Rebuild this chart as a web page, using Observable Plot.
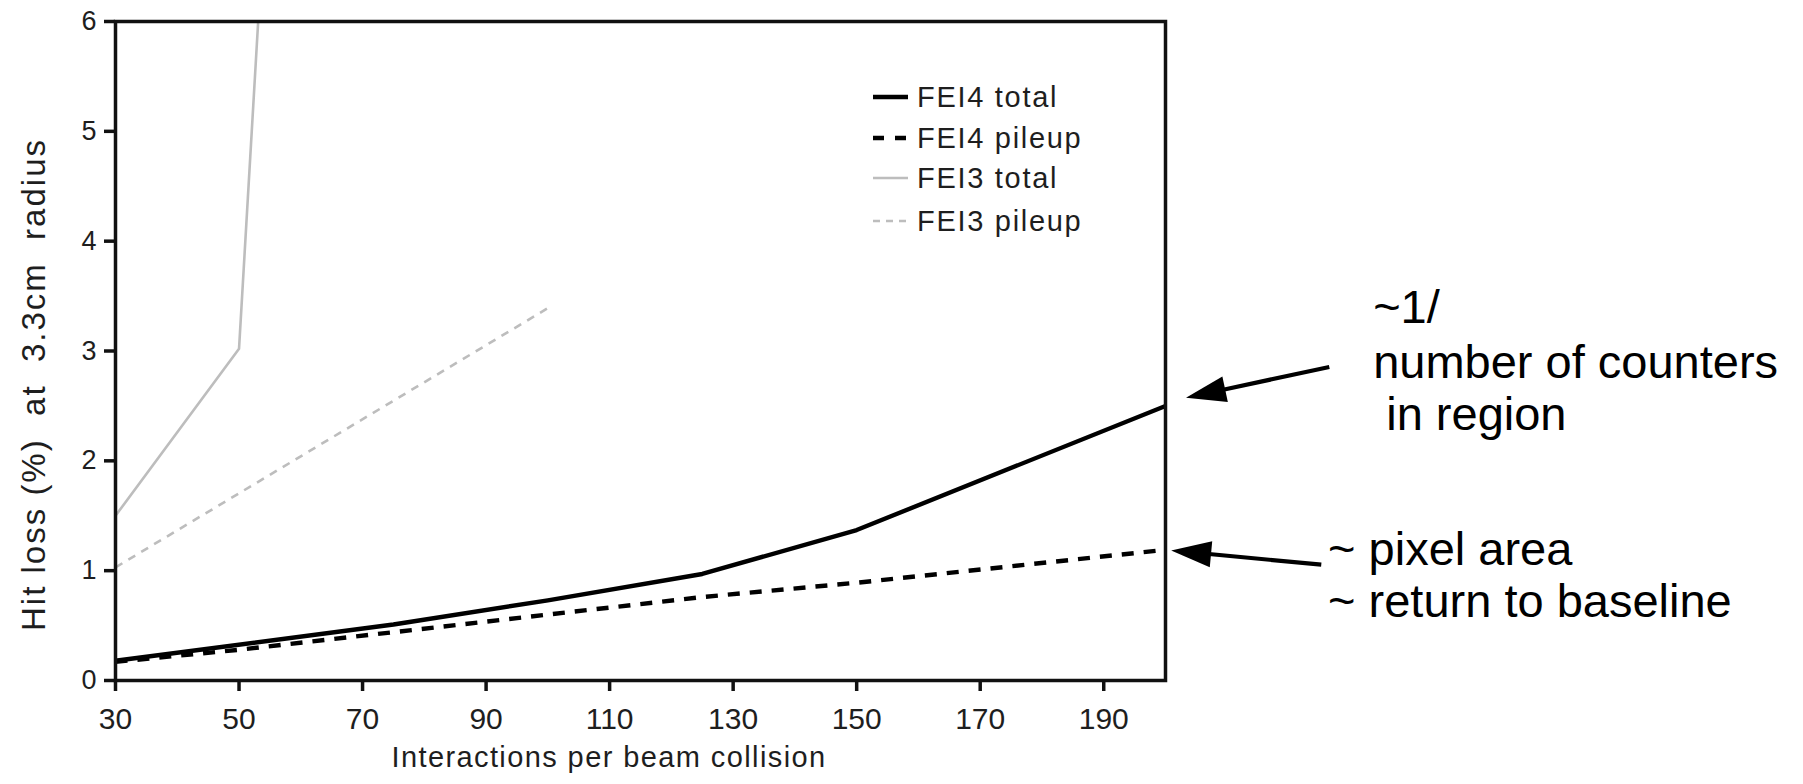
<!DOCTYPE html>
<html>
<head>
<meta charset="utf-8">
<script src="https://cdn.jsdelivr.net/npm/d3@7"></script>
<script src="https://cdn.jsdelivr.net/npm/@observablehq/plot@0.6"></script>
<style>
  html, body { margin: 0; padding: 0; background: #fff; }
  #chart svg { display: block; }
</style>
</head>
<body>
<div id="chart"></div>
<script>
// ---------- data ----------
const seriesNames = ["FEI4 total", "FEI4 pileup", "FEI3 total", "FEI3 pileup"];

const fei4TotalX  = [30, 75, 100, 125, 150, 200];
const fei4TotalY  = [0.18, 0.51, 0.73, 0.97, 1.37, 2.5];

const fei4PileupX = [30, 50, 75, 100, 125, 150, 200];
const fei4PileupY = [0.17, 0.28, 0.44, 0.60, 0.76, 0.89, 1.19];

const fei3TotalX  = [30, 50, 53.1];
const fei3TotalY  = [1.5, 3.02, 6.0];

const fei3PileupX = [30, 100];
const fei3PileupY = [1.03, 3.39];

const xTicks = [30, 50, 70, 90, 110, 130, 150, 170, 190];
const yTicks = [0, 1, 2, 3, 4, 5, 6];

const xTitle = "Interactions per beam collision";
const yTitle = "Hit loss (%)  at  3.3cm  radius";

// annotation texts and their anchors (in data units)
const noteTexts = ["~1/", "number of counters", " in region", "~ pixel area", "~ return to baseline"];
const noteX     = [233.7, 233.7, 233.7, 226.4, 226.4];
const noteY     = [3.25, 2.75, 2.28, 1.05, 0.57];

// arrows: tail -> tip (data units)
const arrowTailX = [226.6, 225.3];
const arrowTailY = [2.85, 1.05];
const arrowTipX  = [203.4, 201.0];
const arrowTipY  = [2.57, 1.18];

// ---------- build table ----------
const rows = [];
[[fei4TotalX, fei4TotalY], [fei4PileupX, fei4PileupY], [fei3TotalX, fei3TotalY], [fei3PileupX, fei3PileupY]]
  .forEach(([xs, ys], i) => xs.forEach((v, j) => rows.push({series: seriesNames[i], x: v, y: ys[j]})));

const notes = noteTexts.map((t, i) => ({text: t, x: noteX[i], y: noteY[i]}));
const arrows = arrowTipX.map((v, i) => ({x1: arrowTailX[i], y1: arrowTailY[i], x2: v, y2: arrowTipY[i]}));

// ---------- styles ----------
const FONT = "Liberation Sans, Arial, Helvetica, sans-serif";
const style = {
  "FEI4 total":  {stroke: "#000", strokeWidth: 4.4, dash: null},
  "FEI4 pileup": {stroke: "#000", strokeWidth: 4.4, dash: "12,10", legendDash: "11,11"},
  "FEI3 total":  {stroke: "#bdbdbd", strokeWidth: 2.6, dash: null},
  "FEI3 pileup": {stroke: "#bdbdbd", strokeWidth: 2.6, dash: "8,7", legendDash: "7,6"}
};

function seriesLine(name) {
  const s = style[name];
  return Plot.line(rows.filter(d => d.series === name), {
    x: "x", y: "y",
    stroke: s.stroke, strokeWidth: s.strokeWidth,
    strokeDasharray: s.dash || undefined,
    strokeLinecap: s.dash ? "butt" : "round",
    strokeLinejoin: "round",
    clip: true
  });
}

// overlay: titles, legend, annotations
function overlay(index, scales, values, dims) {
  const {x, y} = scales;
  const left = dims.marginLeft, top = dims.marginTop;
  const right = dims.width - dims.marginRight, bottom = dims.height - dims.marginBottom;
  const g = d3.create("svg:g").attr("font-family", FONT);

  // y title
  g.append("text")
    .attr("transform", `translate(${left - 82},${(top + bottom) / 2 + 34}) rotate(-90)`)
    .attr("text-anchor", "middle").attr("dy", "0.35em")
    .attr("font-size", 33).attr("fill", "#1e1e1e")
    .style("white-space", "pre").style("letter-spacing", "2px")
    .text(yTitle);

  // x title
  g.append("text")
    .attr("x", (left + right) / 2 - 31).attr("y", bottom + 87)
    .attr("text-anchor", "middle")
    .attr("font-size", 29).attr("fill", "#1e1e1e")
    .style("letter-spacing", "1.4px")
    .text(xTitle);

  // legend
  const lx0 = right - 292, lx1 = right - 257, tx = right - 248;
  const rowY = [top + 76, top + 117, top + 157, top + 200];
  seriesNames.forEach((name, i) => {
    const s = style[name];
    g.append("line")
      .attr("x1", lx0).attr("x2", lx1).attr("y1", rowY[i]).attr("y2", rowY[i])
      .attr("stroke", s.stroke).attr("stroke-width", s.strokeWidth)
      .attr("stroke-dasharray", s.legendDash || null);
    g.append("text")
      .attr("x", tx).attr("y", rowY[i]).attr("dy", "0.36em")
      .attr("text-anchor", "start")
      .attr("font-size", 29).attr("fill", "#1e1e1e")
      .style("letter-spacing", "1.7px")
      .text(name);
  });

  // annotation texts
  notes.forEach(n => {
    g.append("text")
      .attr("x", x(n.x)).attr("y", y(n.y))
      .attr("text-anchor", "start")
      .attr("font-size", 47).attr("fill", "#000")
      .style("white-space", "pre")
      .text(n.text);
  });

  // arrows with filled heads
  arrows.forEach(a => {
    const X1 = x(a.x1), Y1 = y(a.y1), X2 = x(a.x2), Y2 = y(a.y2);
    const dx = X2 - X1, dy = Y2 - Y1, len = Math.hypot(dx, dy);
    const ux = dx / len, uy = dy / len, nx = -uy, ny = ux;
    const L = 40, W = 13;
    const bx = X2 - L * ux, by = Y2 - L * uy;
    g.append("line")
      .attr("x1", X1).attr("y1", Y1).attr("x2", bx + 2 * ux).attr("y2", by + 2 * uy)
      .attr("stroke", "#000").attr("stroke-width", 4.2);
    g.append("path")
      .attr("d", `M${X2},${Y2}L${bx + W * nx},${by + W * ny}L${bx - W * nx},${by - W * ny}Z`)
      .attr("fill", "#000");
  });

  return g.node();
}

const chart = Plot.plot({
  width: 1803,
  height: 784,
  marginLeft: 115,
  marginRight: 638,
  marginTop: 21,
  marginBottom: 104,
  style: {fontFamily: FONT, background: "#fff", overflow: "visible"},
  x: {domain: [30, 200], label: null},
  y: {domain: [0, 6], label: null},
  marks: [
    seriesLine("FEI3 pileup"),
    seriesLine("FEI3 total"),
    seriesLine("FEI4 pileup"),
    seriesLine("FEI4 total"),
    Plot.axisX({ticks: xTicks, tickFormat: d3.format("d"), tickSize: 11, tickPadding: 16, fontSize: 30,
                stroke: "#111", strokeWidth: 3.5, fill: "#1e1e1e", label: null}),
    Plot.axisY({ticks: yTicks, tickFormat: d3.format("d"), tickSize: 11, tickPadding: 8, fontSize: 27,
                stroke: "#111", strokeWidth: 3.5, fill: "#1e1e1e", label: null}),
    Plot.frame({stroke: "#111", strokeWidth: 3.5}),
    overlay
  ]
});

document.getElementById("chart").appendChild(chart);
</script>
</body>
</html>
